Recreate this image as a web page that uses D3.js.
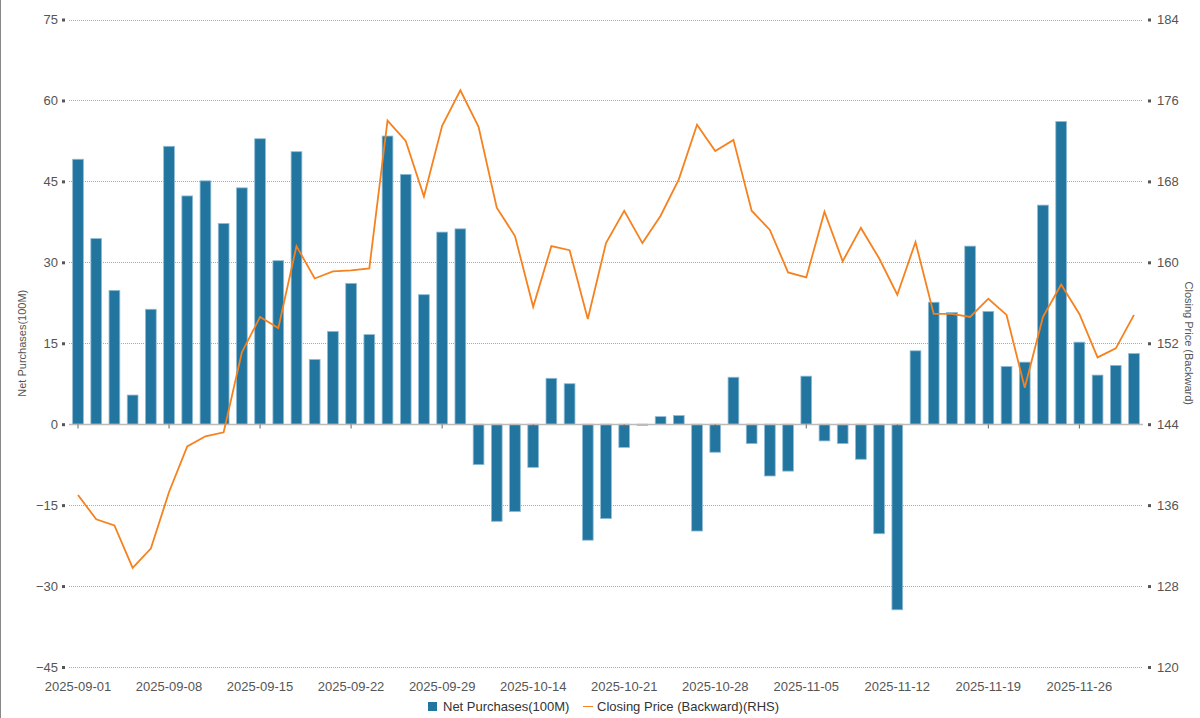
<!DOCTYPE html>
<html><head><meta charset="utf-8">
<script src="https://cdn.jsdelivr.net/npm/d3@7/dist/d3.min.js"></script>
<style>
html,body{margin:0;padding:0;background:#fff;}
svg{display:block;font-family:"Liberation Sans",Arial,sans-serif;}
</style></head><body>
<svg id="chart" width="1200" height="718"></svg>
<script>
const categories = [
 "2025-09-01","2025-09-02","2025-09-03","2025-09-04","2025-09-05",
 "2025-09-08","2025-09-09","2025-09-10","2025-09-11","2025-09-12",
 "2025-09-15","2025-09-16","2025-09-17","2025-09-18","2025-09-19",
 "2025-09-22","2025-09-23","2025-09-24","2025-09-25","2025-09-26",
 "2025-09-29","2025-09-30","2025-10-09","2025-10-10","2025-10-13",
 "2025-10-14","2025-10-15","2025-10-16","2025-10-17","2025-10-20",
 "2025-10-21","2025-10-22","2025-10-23","2025-10-24","2025-10-27",
 "2025-10-28","2025-10-29","2025-10-30","2025-10-31","2025-11-03",
 "2025-11-05","2025-11-06","2025-11-07","2025-11-10","2025-11-11",
 "2025-11-12","2025-11-13","2025-11-14","2025-11-17","2025-11-18",
 "2025-11-19","2025-11-20","2025-11-21","2025-11-24","2025-11-25",
 "2025-11-26","2025-11-27","2025-11-28","2025-12-01"
];
const netPurchases = [
 49.1,34.4,24.8,5.4,21.3, 51.5,42.3,45.1,37.2,43.8,
 52.9,30.3,50.5,12.0,17.2, 26.1,16.6,53.4,46.3,24.0,
 35.6,36.2,-7.5,-18.0,-16.2, -8.0,8.5,7.5,-21.5,-17.5,
 -4.3,-0.2,1.4,1.6,-19.8, -5.2,8.7,-3.6,-9.6,-8.7,
 8.9,-3.1,-3.6,-6.5,-20.3, -34.4,13.6,22.6,20.7,33.0,
 20.9,10.7,11.5,40.6,56.1, 15.2,9.1,10.9,13.1
];
const closingPrice = [
 137.0,134.6,134.0,129.8,131.7, 137.3,141.8,142.8,143.2,151.1,
 154.6,153.5,161.6,158.4,159.1, 159.2,159.4,174.0,172.0,166.5,
 173.5,177.0,173.4,165.4,162.6, 155.6,161.6,161.2,154.4,161.9,
 165.1,161.9,164.6,168.2,173.6, 171.0,172.1,165.1,163.2,159.0,
 158.5,165.0,160.1,163.4,160.4, 156.8,162.0,154.9,154.9,154.6,
 156.4,154.8,147.6,154.6,157.8, 154.9,150.6,151.5,154.8
];
const xTickLabels = ["2025-09-01","2025-09-08","2025-09-15","2025-09-22","2025-09-29","2025-10-14","2025-10-21","2025-10-28","2025-11-05","2025-11-12","2025-11-19","2025-11-26"];
const leftTicks = [-45,-30,-15,0,15,30,45,60,75];
const rightTicks = [120,128,136,144,152,160,168,176,184];
const leftTitle = "Net Purchases(100M)";
const rightTitle = "Closing Price (Backward)";
const legendBar = "Net Purchases(100M)";
const legendLine = "Closing Price (Backward)(RHS)";

const svg = d3.select("#chart");
const L = 69, R = 1143, T = 19.5, B = 667;
const barColor = "#21759f", lineColor = "#f5821f", textColor = "#555";

const x = d3.scaleBand().domain(categories).range([L, R]).paddingInner(0.41).paddingOuter(0.2);
const yL = d3.scaleLinear().domain([-45, 75]).range([B, T]);
const yR = d3.scaleLinear().domain([120, 184]).range([B, T]);

// left border
svg.append("line").attr("x1",0.5).attr("x2",0.5).attr("y1",0).attr("y2",718).attr("stroke","#888").attr("stroke-width",1);

// gridlines
svg.append("g").selectAll("line").data(leftTicks.filter(d=>d!==0)).join("line")
 .attr("x1",L).attr("x2",R).attr("y1",d=>Math.round(yL(d))+0.5).attr("y2",d=>Math.round(yL(d))+0.5)
 .attr("stroke","#aaa").attr("stroke-width",1).attr("stroke-dasharray","1,1");

// left axis
const gL = svg.append("g").attr("transform",`translate(${L-3},0)`)
 .call(d3.axisLeft(yL).tickValues(leftTicks).tickSize(0).tickPadding(8).tickFormat(d3.format("d")));
gL.select(".domain").remove();
gL.selectAll("text").attr("fill",textColor).style("font-size","13px").style("font-family","'Liberation Sans',Arial,sans-serif");
gL.selectAll(".tick").append("rect").attr("x",-4).attr("y",-1.5).attr("width",3).attr("height",3).attr("fill","#555");

// right axis
const gR = svg.append("g").attr("transform",`translate(${R+4},0)`)
 .call(d3.axisRight(yR).tickValues(rightTicks).tickSize(0).tickPadding(10).tickFormat(d3.format("d")));
gR.select(".domain").remove();
gR.selectAll("text").attr("fill",textColor).style("font-size","13px").style("font-family","'Liberation Sans',Arial,sans-serif");
gR.selectAll(".tick").append("rect").attr("x",1).attr("y",-1.5).attr("width",3).attr("height",3).attr("fill","#555");

// bars
svg.append("g").selectAll("rect").data(netPurchases).join("rect")
 .attr("x",(d,i)=>x(categories[i]))
 .attr("width",x.bandwidth())
 .attr("y",d=>yL(Math.max(0,d)))
 .attr("height",d=>Math.max(0.8,Math.abs(yL(d)-yL(0))))
 .attr("fill",barColor)
 .attr("stroke","#8fbcd6").attr("stroke-width",0.8);

// zero line / x axis
const y0 = Math.round(yL(0))+0.5;
svg.append("line").attr("x1",L).attr("x2",R).attr("y1",y0).attr("y2",y0).attr("stroke","#bbb").attr("stroke-width",1.5);
const gX = svg.append("g").attr("transform",`translate(0,${y0})`)
 .call(d3.axisBottom(x).tickValues(xTickLabels).tickSize(4).tickFormat(""));
gX.select(".domain").remove();
gX.selectAll("line").attr("stroke","#666");
svg.append("g").selectAll("text").data(xTickLabels).join("text")
 .attr("x",d=>x(d)+x.bandwidth()/2).attr("y",691)
 .attr("text-anchor","middle").attr("fill",textColor).style("font-size","13px")
 .text(d=>d);

// line
const line = d3.line().x((d,i)=>x(categories[i])+x.bandwidth()/2).y(d=>yR(d));
svg.append("path").datum(closingPrice).attr("d",line)
 .attr("fill","none").attr("stroke",lineColor).attr("stroke-width",1.8).attr("stroke-linejoin","miter");

// axis titles
svg.append("text").attr("transform",`translate(26,${(T+B)/2}) rotate(-90)`)
 .attr("text-anchor","middle").attr("fill",textColor).style("font-size","11px").text(leftTitle);
svg.append("text").attr("transform",`translate(1185,${(T+B)/2}) rotate(90)`)
 .attr("text-anchor","middle").attr("fill",textColor).style("font-size","11px").text(rightTitle);

// legend
const lg = svg.append("g");
lg.append("rect").attr("x",428).attr("y",702).attr("width",9).attr("height",9).attr("fill",barColor);
lg.append("text").attr("x",443).attr("y",711).attr("fill","#333").style("font-size","13px").text(legendBar);
lg.append("line").attr("x1",583).attr("x2",593).attr("y1",706.5).attr("y2",706.5).attr("stroke",lineColor).attr("stroke-width",1);
lg.append("text").attr("x",597).attr("y",711).attr("fill","#333").style("font-size","13px").text(legendLine);
</script>
</body></html>
